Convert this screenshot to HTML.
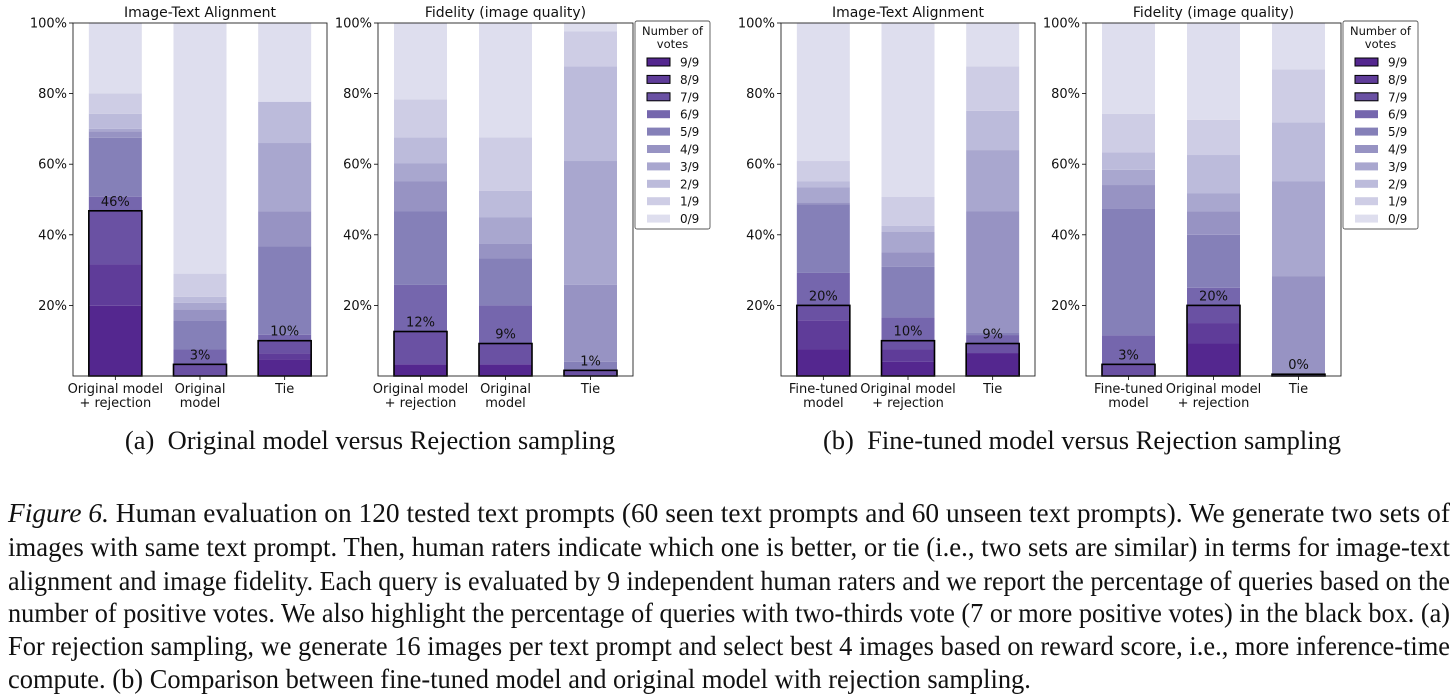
<!DOCTYPE html>
<html><head><meta charset="utf-8">
<style>
html,body{margin:0;padding:0;background:#fff;width:1456px;height:695px;overflow:hidden}
svg text{font-family:"DejaVu Sans","Liberation Sans",sans-serif;fill:#111}
.cap{position:absolute;font-family:"Liberation Serif",serif;font-size:26.5px;color:#111;white-space:nowrap;transform:translateX(-50%)}
.ln{position:absolute;left:8px;font-family:"Liberation Serif",serif;font-size:27px;color:#111;white-space:nowrap;line-height:30px;transform-origin:0 0}
</style></head><body>
<svg id="chart" width="1456" height="420" style="position:absolute;left:0;top:0"></svg>
<div class="cap" style="left:370px;top:425px">(a)&nbsp; Original model versus Rejection sampling</div>
<div class="cap" style="left:1082px;top:425px">(b)&nbsp; Fine-tuned model versus Rejection sampling</div>
<div>
<div class="ln" style="top:498px"><i>Figure 6.</i> Human evaluation on 120 tested text prompts (60 seen text prompts and 60 unseen text prompts). We generate two sets of</div>
<div class="ln" style="top:532px">images with same text prompt. Then, human raters indicate which one is better, or tie (i.e., two sets are similar) in terms for image-text</div>
<div class="ln" style="top:566px">alignment and image fidelity. Each query is evaluated by 9 independent human raters and we report the percentage of queries based on the</div>
<div class="ln" style="top:598px">number of positive votes. We also highlight the percentage of queries with two-thirds vote (7 or more positive votes) in the black box. (a)</div>
<div class="ln" style="top:631px">For rejection sampling, we generate 16 images per text prompt and select best 4 images based on reward score, i.e., more inference-time</div>
<div class="ln last" style="top:664px">compute. (b) Comparison between fine-tuned model and original model with rejection sampling.</div>
</div>
<script>
// segment values per bar, ordered 9/9 ... 0/9 (percent)
const levels = ["9/9","8/9","7/9","6/9","5/9","4/9","3/9","2/9","1/9","0/9"];
const yTicks = [20,40,60,80,100];
const catsA = [["Original model","+ rejection"],["Original","model"],["Tie"]];
const catsB = [["Fine-tuned","model"],["Original model","+ rejection"],["Tie"]];
const p1 = [
 [19.9,11.7,15.2,4.0,16.7,1.8,0.7,4.3,5.8,19.9],
 [0,0,3.3,4.2,8.3,3.1,1.8,1.7,6.6,71.0],
 [4.7,1.7,3.6,1.7,25.0,10.0,19.3,11.7,0,22.3]
];
const p2 = [
 [3.3,0,9.3,13.2,20.8,8.5,5.1,7.4,10.8,21.6],
 [3.3,0,5.9,10.8,13.3,4.1,7.5,7.6,15.1,32.4],
 [0,0,1.6,0,2.4,21.8,35.1,26.8,9.9,2.4]
];
const p3 = [
 [7.5,8.3,4.2,9.2,19.4,0.6,4.3,1.6,5.8,39.1],
 [4.0,3.5,2.5,6.6,14.3,4.1,5.9,1.6,8.3,49.2],
 [6.5,0,2.7,2.4,0.8,34.2,17.4,11.1,12.6,12.3]
];
const p4 = [
 [0,0,3.3,8.2,36.0,6.6,4.3,5.0,10.9,25.7],
 [9.2,5.8,5.0,5.0,15.0,6.7,5.0,10.9,10.0,27.4],
 [0,0,0.5,0,0,27.8,26.8,16.7,15.1,13.1]
];
const colors = ["#54278f","#5f3c99","#6a51a3","#7566ad","#8580b8","#9793c3","#a9a7cf","#bcbbdb","#cecde5","#dedeee"];
const svg = document.getElementById('chart');
const NS = 'http://www.w3.org/2000/svg';
function mk(tag, attrs, parent){const e=document.createElementNS(NS,tag);for(const k in attrs)e.setAttribute(k,attrs[k]);(parent||svg).appendChild(e);return e;}
const y0 = 376, yTop = 23;
function yScale(p){return y0 - p*(y0-yTop)/100;}
const panels = [
 {name:"a-alignment",title:"Image-Text Alignment",left:73,right:327,data:p1,cats:catsA,legend:false},
 {name:"a-fidelity",title:"Fidelity (image quality)",left:378,right:633,data:p2,cats:catsA,legend:true},
 {name:"b-alignment",title:"Image-Text Alignment",left:781,right:1035,data:p3,cats:catsB,legend:false},
 {name:"b-fidelity",title:"Fidelity (image quality)",left:1086,right:1341,data:p4,cats:catsB,legend:true}
];
panels.forEach(P=>{
  const g = mk('g',{});
  
  
  const w = P.right-P.left, bw = 53, step = w/3;
  P.data.forEach((segs,i)=>{
    const cx = P.left + step*(i+0.5);
    const x = cx - bw/2;
    let cum = 0;
    segs.forEach((v,j)=>{
      if(v<=0) return;
      const r = mk('rect',{x:x,y:yScale(cum+v),width:bw,height:yScale(cum)-yScale(cum+v),fill:colors[j]},g);
      
      
      cum += v;
    });
    const hi = segs[0]+segs[1]+segs[2];
    const box = mk('rect',{x:x,y:yScale(hi),width:bw,height:Math.max(yScale(0)-yScale(hi),1),fill:'none',stroke:'#000','stroke-width':1.6},g);
    
    
    const t = mk('text',{x:cx,y:yScale(hi)-5,'text-anchor':'middle','font-size':13},g);
    
    
    t.textContent = Math.floor(hi+1e-6)+'%';
    mk('line',{x1:cx,x2:cx,y1:y0,y2:y0+4,stroke:'#000','stroke-width':0.8},g);
    P.cats[i].forEach((ln,k)=>{
      const c = mk('text',{x:cx,y:y0+17+k*14,'text-anchor':'middle','font-size':13},g);
      
      
      c.textContent = ln;
    });
  });
  const frame = mk('rect',{x:P.left,y:yTop,width:w,height:y0-yTop,fill:'none',stroke:'#222','stroke-width':0.9},g);
  
  
  yTicks.forEach(v=>{
    const yy = yScale(v);
    mk('line',{x1:P.left-4,x2:P.left,y1:yy,y2:yy,stroke:'#000','stroke-width':0.8},g);
    const t = mk('text',{x:P.left-6,y:yy+4.5,'text-anchor':'end','font-size':13},g);
    
    
    t.textContent = v+'%';
  });
  const tt = mk('text',{x:(P.left+P.right)/2,y:17,'text-anchor':'middle','font-size':14},g);
  
  
  tt.textContent = P.title;
  if(P.legend){
    const lx = P.right+2;
    const lg = mk('g',{},g);
    
    
    mk('rect',{x:lx,y:21,width:75,height:208,rx:2,fill:'#fff',stroke:'#555','stroke-width':0.9},lg);
    const a = mk('text',{x:lx+37.5,y:35,'text-anchor':'middle','font-size':11.5},lg);
    a.textContent = 'Number of';
    const b = mk('text',{x:lx+37.5,y:48,'text-anchor':'middle','font-size':11.5},lg);
    b.textContent = 'votes';
    levels.forEach((lv,j)=>{
      const yy = 62 + j*17.4;
      const e = mk('g',{},lg);
      
      
      const r = mk('rect',{x:lx+12,y:yy-4,width:23,height:8,fill:colors[j]},e);
      if(j<3){r.setAttribute('stroke','#000');r.setAttribute('stroke-width','1');}
      const t = mk('text',{x:lx+45,y:yy+4.5,'font-size':12},e);
      t.textContent = lv;
    });
  }
});
// fit caption lines to full width
const lines = document.querySelectorAll('.ln');
let lastScale = 1;
lines.forEach((l,i)=>{
  const wdt = l.getBoundingClientRect().width;
  let s = 1442/wdt;
  if(i===lines.length-1) s = lastScale;
  else lastScale = s;
  l.style.transform = 'scaleX('+s+')';
});
</script>
</body></html>
